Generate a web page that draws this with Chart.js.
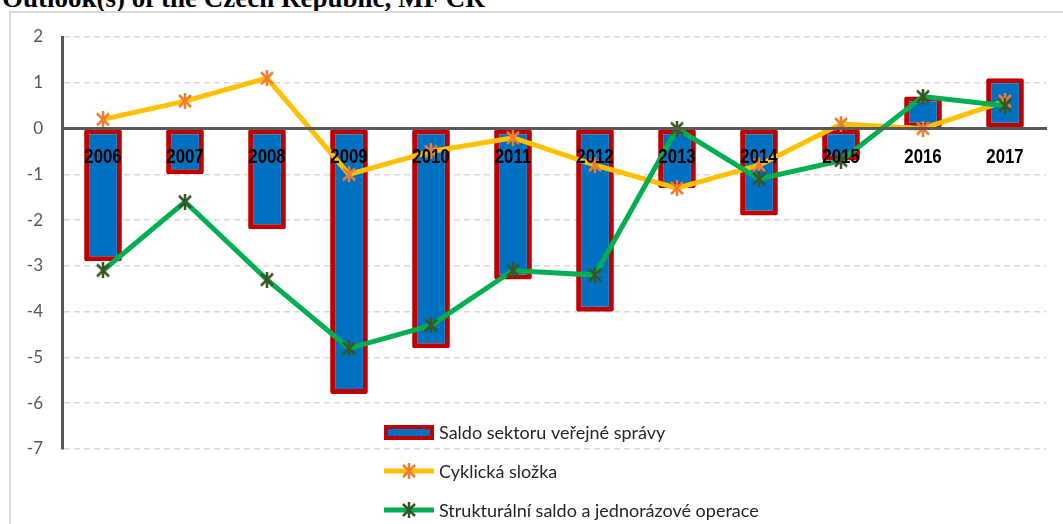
<!DOCTYPE html>
<html>
<head>
<meta charset="utf-8">
<script src="https://cdn.jsdelivr.net/npm/chart.js@4/dist/chart.umd.min.js"></script>
<style>
  html, body { margin: 0; padding: 0; background: #fff; }
  body { width: 1063px; height: 524px; position: relative; overflow: hidden; }
  #title { position: absolute; left: 2px; top: -15px; font: bold 27px 'Liberation Serif', 'Times New Roman', serif; line-height: 27px; white-space: nowrap; color: #000; }
  #frame { position: absolute; left: 9px; top: 11px; width: 1100px; height: 600px; border: 2px solid #d9d9d9; box-sizing: border-box; }
  #wrap { position: absolute; left: 0; top: 0; width: 1063px; height: 524px; }
</style>
</head>
<body>
<div id="title">Outlook(s) of the Czech Republic, MF CR</div>
<div id="frame"></div>
<div id="wrap"><canvas id="chart"></canvas></div>
<script>
const years = ['2006', '2007', '2008', '2009', '2010', '2011', '2012', '2013', '2014', '2015', '2016', '2017'];
const saldo = [-2.9, -1.0, -2.2, -5.8, -4.8, -3.3, -4.0, -1.3, -1.9, -0.7, 0.7, 1.1];
const cyklicka = [0.2, 0.6, 1.1, -1.0, -0.5, -0.2, -0.8, -1.3, -0.8, 0.1, 0.0, 0.6];
const strukturalni = [-3.1, -1.6, -3.3, -4.8, -4.3, -3.1, -3.2, 0.0, -1.1, -0.7, 0.7, 0.5];
const yMin = -7, yMax = 2, yStep = 1;

// asterisk marker like the Excel one: X plus a vertical stroke
function asterisk(color) {
  const c = document.createElement('canvas');
  c.width = 16; c.height = 16;
  const g = c.getContext('2d');
  g.strokeStyle = color;
  g.lineWidth = 2.5;
  g.beginPath();
  g.moveTo(2, 2); g.lineTo(14, 14);
  g.moveTo(14, 2); g.lineTo(2, 14);
  g.moveTo(8, 0); g.lineTo(8, 16);
  g.stroke();
  return c;
}

// year labels hang under the zero line, in a condensed face (no narrow font installed, so squeeze it)
const zeroLabels = {
  id: 'zeroLabels',
  afterDatasetsDraw(chart) {
    const ctx = chart.ctx;
    const xs = chart.scales.x, ys = chart.scales.y;
    const y = ys.getPixelForValue(0) + 34;
    ctx.save();
    ctx.fillStyle = '#000';
    ctx.font = 'bold 20px "Liberation Sans", Arial, sans-serif';
    ctx.textAlign = 'center';
    ctx.textBaseline = 'alphabetic';
    xs.getLabels().forEach((lab, i) => {
      ctx.save();
      ctx.translate(xs.getPixelForValue(i), y);
      ctx.scale(0.84, 1);
      ctx.fillText(lab, 0, 0);
      ctx.restore();
    });
    ctx.restore();
  }
};

const insideLegend = {
  id: 'insideLegend',
  afterDraw(chart) {
    const ctx = chart.ctx;
    const x0 = chart.chartArea.left + 322;
    const rows = [432, 471, 510];
    chart.data.datasets.forEach((ds, i) => {
      const y = rows[i];
      ctx.save();
      if (ds.type === 'bar') {
        ctx.fillStyle = ds.borderColor;
        ctx.fillRect(x0, y - 7, 50, 15);
        ctx.fillStyle = ds.backgroundColor;
        ctx.fillRect(x0 + 4, y - 3, 42, 7);
      } else {
        ctx.strokeStyle = ds.borderColor;
        ctx.lineWidth = 5;
        ctx.beginPath();
        ctx.moveTo(x0, y); ctx.lineTo(x0 + 50, y);
        ctx.stroke();
        ctx.drawImage(ds.pointStyle, x0 + 25 - 8, y - 8);
      }
      ctx.fillStyle = '#262626';
      ctx.font = '18px Lato, sans-serif';
      ctx.textBaseline = 'middle';
      ctx.fillText(ds.label, x0 + 55, y + 1);
      ctx.restore();
    });
  }
};

new Chart(document.getElementById('chart'), {
  data: {
    labels: years,
    datasets: [
      { type: 'bar', label: 'Saldo sektoru veřejné správy', data: saldo, backgroundColor: '#0070C0', borderColor: '#C00000', borderWidth: 5, borderSkipped: false, borderRadius: 2, barPercentage: 0.46, categoryPercentage: 1, order: 3 },
      { type: 'line', label: 'Cyklická složka', data: cyklicka, borderColor: '#FFC000', borderWidth: 5, pointStyle: asterisk('#ED7D31'), pointRadius: 8, fill: false, tension: 0, order: 2 },
      { type: 'line', label: 'Strukturální saldo a jednorázové operace', data: strukturalni, borderColor: '#00B050', borderWidth: 5, pointStyle: asterisk('#375623'), pointRadius: 8, fill: false, tension: 0, order: 1 }
    ]
  },
  options: {
    responsive: true,
    maintainAspectRatio: false,
    animation: false,
    layout: { padding: { left: 0, top: 37, right: 17, bottom: 75 } },
    plugins: { legend: { display: false }, tooltip: { enabled: false } },
    scales: {
      x: {
        type: 'category',
        position: { y: 0 },
        grid: { display: false, drawTicks: false },
        border: { display: true, color: '#595959', width: 3, z: 1 },
        ticks: { display: false }
      },
      y: {
        min: yMin,
        max: yMax,
        afterFit(s) { s.width = 62; },
        grid: { color: '#d9d9d9', lineWidth: 1.5, drawTicks: false },
        border: { display: true, color: '#595959', width: 3, dash: [6, 4] },
        ticks: { stepSize: yStep, color: '#595959', padding: 19, font: { family: 'Lato, sans-serif', size: 17 } }
      }
    }
  },
  plugins: [zeroLabels, insideLegend]
});
</script>
</body>
</html>
